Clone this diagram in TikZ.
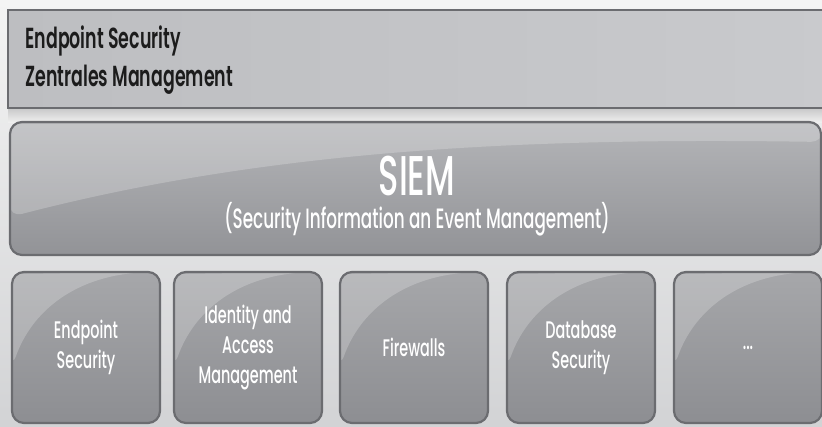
\documentclass[tikz,border=0pt]{standalone}
\usepackage{fontspec}
\setmainfont{Poppins}[FakeStretch=0.62]
\newfontfamily\medfont{Poppins Medium}[FakeStretch=0.6]
\newfontfamily\semifont{Poppins SemiBold}[FakeStretch=0.6]
\definecolor{edge}{HTML}{6B6C70}
\definecolor{bgtop}{HTML}{F4F4F4}
\definecolor{bgbot}{HTML}{D2D3D5}
\definecolor{bartop}{HTML}{C9CACD}
\definecolor{barbot}{HTML}{BDBEC1}
\definecolor{siemtop}{HTML}{B4B5B8}
\definecolor{siembot}{HTML}{929397}
\definecolor{celltop}{HTML}{A6A7AA}
\definecolor{cellbot}{HTML}{8D8E92}
\definecolor{txt}{HTML}{1C1C1C}
\begin{document}
\begin{tikzpicture}[x=1pt,y=-1pt,
  glassbox/.style={draw=edge, line width=2.2pt, rounded corners=12pt,
    top color=#1top, bottom color=#1bot, inner sep=0pt},
  cell/.style={glassbox=cell, minimum width=148pt, minimum height=151pt,
    text=white, align=center, font=\medfont\fontsize{24}{30}\selectfont,
    path picture={
      \fill[white,opacity=0.22]
        ([xshift=-2pt,yshift=-2pt]path picture bounding box.north west)
        -- ([yshift=-95pt]path picture bounding box.north west)
        .. controls ([xshift=20pt,yshift=-40pt]path picture bounding box.north west)
        and ([xshift=60pt,yshift=-8pt]path picture bounding box.north west)
        .. ([xshift=130pt]path picture bounding box.north west) -- cycle;
    }},
]
\useasboundingbox (0,0) rectangle (822,426);
\shade[top color=bgtop, bottom color=bgbot] (0,0) rectangle (822,426);
% shadow under top bar
\shade[top color=black!35, bottom color=bgtop, opacity=0.5] (8,108) rectangle (822,122);
% top bar
\node[draw=edge, line width=2.2pt, left color=barbot, right color=bartop,
  minimum width=830pt, minimum height=98pt, inner sep=0pt] (bar) at (423,59) {};
\node[anchor=west, text=txt, align=left, font=\semifont\fontsize{29}{38}\selectfont]
  (bartext) at (22,60) {Endpoint Security\\Zentrales Management};
% SIEM
\node[glassbox=siem, minimum width=811pt, minimum height=133pt,
  path picture={
    \fill[white,opacity=0.22]
      ([xshift=-2pt,yshift=-2pt]path picture bounding box.north west)
      -- ([yshift=-95pt]path picture bounding box.north west)
      .. controls ([xshift=250pt,yshift=-30pt]path picture bounding box.north west)
      and ([xshift=500pt,yshift=-15pt]path picture bounding box.north west)
      .. ([xshift=813pt,yshift=-20pt]path picture bounding box.north west)
      -- ([xshift=813pt,yshift=-2pt]path picture bounding box.north west) -- cycle;
  }] (siem) at (415.5,188.5) {};
\node[text=white, align=center, inner sep=0pt] (siemtext) at (417,196)
  {{\medfont\fontsize{56}{56}\selectfont SIEM}\\[6pt]
   {\medfont\fontsize{28}{30}\selectfont (Security Information an Event Management)}};
% cells
\node[cell] (c1) at (86,347.5) {Endpoint\\Security};
\node[cell] (c2) at (248,347.5) {Identity and\\Access\\Management};
\node[cell] (c3) at (414,347.5) {Firewalls};
\node[cell] (c4) at (581,347.5) {Database\\Security};
\node[cell] (c5) at (748,347.5) {...};
\end{tikzpicture}
\end{document}
